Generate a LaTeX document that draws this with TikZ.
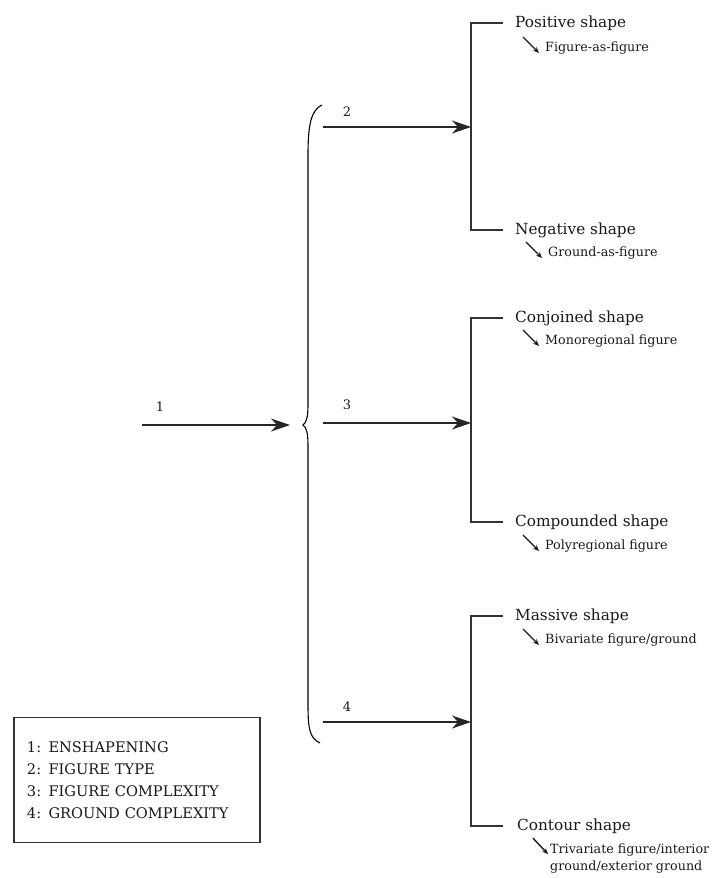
\documentclass[tikz,border=0pt]{standalone}
\usepackage{fontspec}
\setmainfont{DejaVu Serif}
\usepackage{tikz}
\usetikzlibrary{arrows.meta,positioning,calc}

\begin{document}
\begin{tikzpicture}[
  x=1pt, y=-1pt,
  every node/.style={text=black!90},
  title/.style={anchor=west, inner sep=0pt, font=\fontsize{15.3}{17}\selectfont},
  sub/.style={anchor=base west, inner sep=0pt, align=left, font=\fontsize{12.7}{17}\selectfont},
  num/.style={inner sep=0pt, font=\fontsize{13}{15}\selectfont},
  flow/.style={draw=black!85, line width=1.5pt, -{Stealth[length=19pt, width=13pt, inset=6pt]}},
  bracket/.style={draw=black!80, line width=1.5pt},
  hint/.style={draw=black!90, line width=1.4pt, -{Stealth[length=6pt, width=5pt]}},
  legend/.style={draw=black!80, line width=1.2pt, align=left, minimum width=246pt, minimum height=125pt,
    text width=220pt, inner xsep=13pt, font=\fontsize{14.6}{22}\selectfont}
]
\useasboundingbox (0,0) rectangle (718,878);

% enshapening
\coordinate (start) at (142,425);
\coordinate (enshape) at (290,425);
\draw[flow] (start) -- (enshape);
\node[num] (n1) at (160,407) {1};

% brace
\draw[black, line width=1.1pt] (322,105) .. controls (311,110) and (308,125) .. (308,155)
  -- (308,405) .. controls (308,418) and (306,423) .. (303,425)
  .. controls (306,427) and (308,432) .. (308,445)
  -- (308,705) .. controls (308,730) and (310,738) .. (320,743);

% figure type
\node[title] (pos) at (515,23) {Positive shape};
\node[title] (neg) at (515,230) {Negative shape};
\node[sub] (possub) at (545,51) {Figure-as-figure};
\node[sub] (negsub) at (548,256) {Ground-as-figure};
\coordinate (figtype0) at (323,127);
\coordinate (figtype) at (471,127);
\draw[bracket] ([xshift=-12pt]pos.west) -| (figtype) |- ([xshift=-12pt]neg.west);
\draw[flow] (figtype0) -- (figtype);
\node[num] (n2) at (347,112) {2};

% figure complexity
\node[title] (conj) at (515,318) {Conjoined shape};
\node[title] (comp) at (515,522) {Compounded shape};
\node[sub] (conjsub) at (545,344) {Monoregional figure};
\node[sub] (compsub) at (545,549) {Polyregional figure};
\coordinate (figcomp0) at (323,423);
\coordinate (figcomp) at (471,423);
\draw[bracket] ([xshift=-12pt]conj.west) -| (figcomp) |- ([xshift=-12pt]comp.west);
\draw[flow] (figcomp0) -- (figcomp);
\node[num] (n3) at (347,405) {3};

% ground complexity
\node[title] (mass) at (515,616) {Massive shape};
\node[title] (cont) at (517,826) {Contour shape};
\node[sub] (masssub) at (545,643) {Bivariate figure/ground};
\node[sub] (contsub) at (550,870) {Trivariate figure/interior\\ground/exterior ground};
\coordinate (gndcomp0) at (323,722);
\coordinate (gndcomp) at (471,722);
\draw[bracket] ([xshift=-12pt]mass.west) -| (gndcomp) |- ([xshift=-14pt]cont.west);
\draw[flow] (gndcomp0) -- (gndcomp);
\node[num] (n4) at (347,707) {4};

% little arrows
\foreach \s in {possub,negsub,conjsub,compsub,masssub}
  \draw[hint] ([shift={(-22,-14)}]\s.base west) -- ([shift={(-6,2)}]\s.base west);
\draw[hint] ([shift={(-17,-5)}]contsub.north west) -- ([shift={(-2,11)}]contsub.north west);

% key
\node[legend] (key) at (137,780) {1: ENSHAPENING\\2: FIGURE TYPE\\3: FIGURE COMPLEXITY\\4: GROUND COMPLEXITY};
\end{tikzpicture}
\end{document}
